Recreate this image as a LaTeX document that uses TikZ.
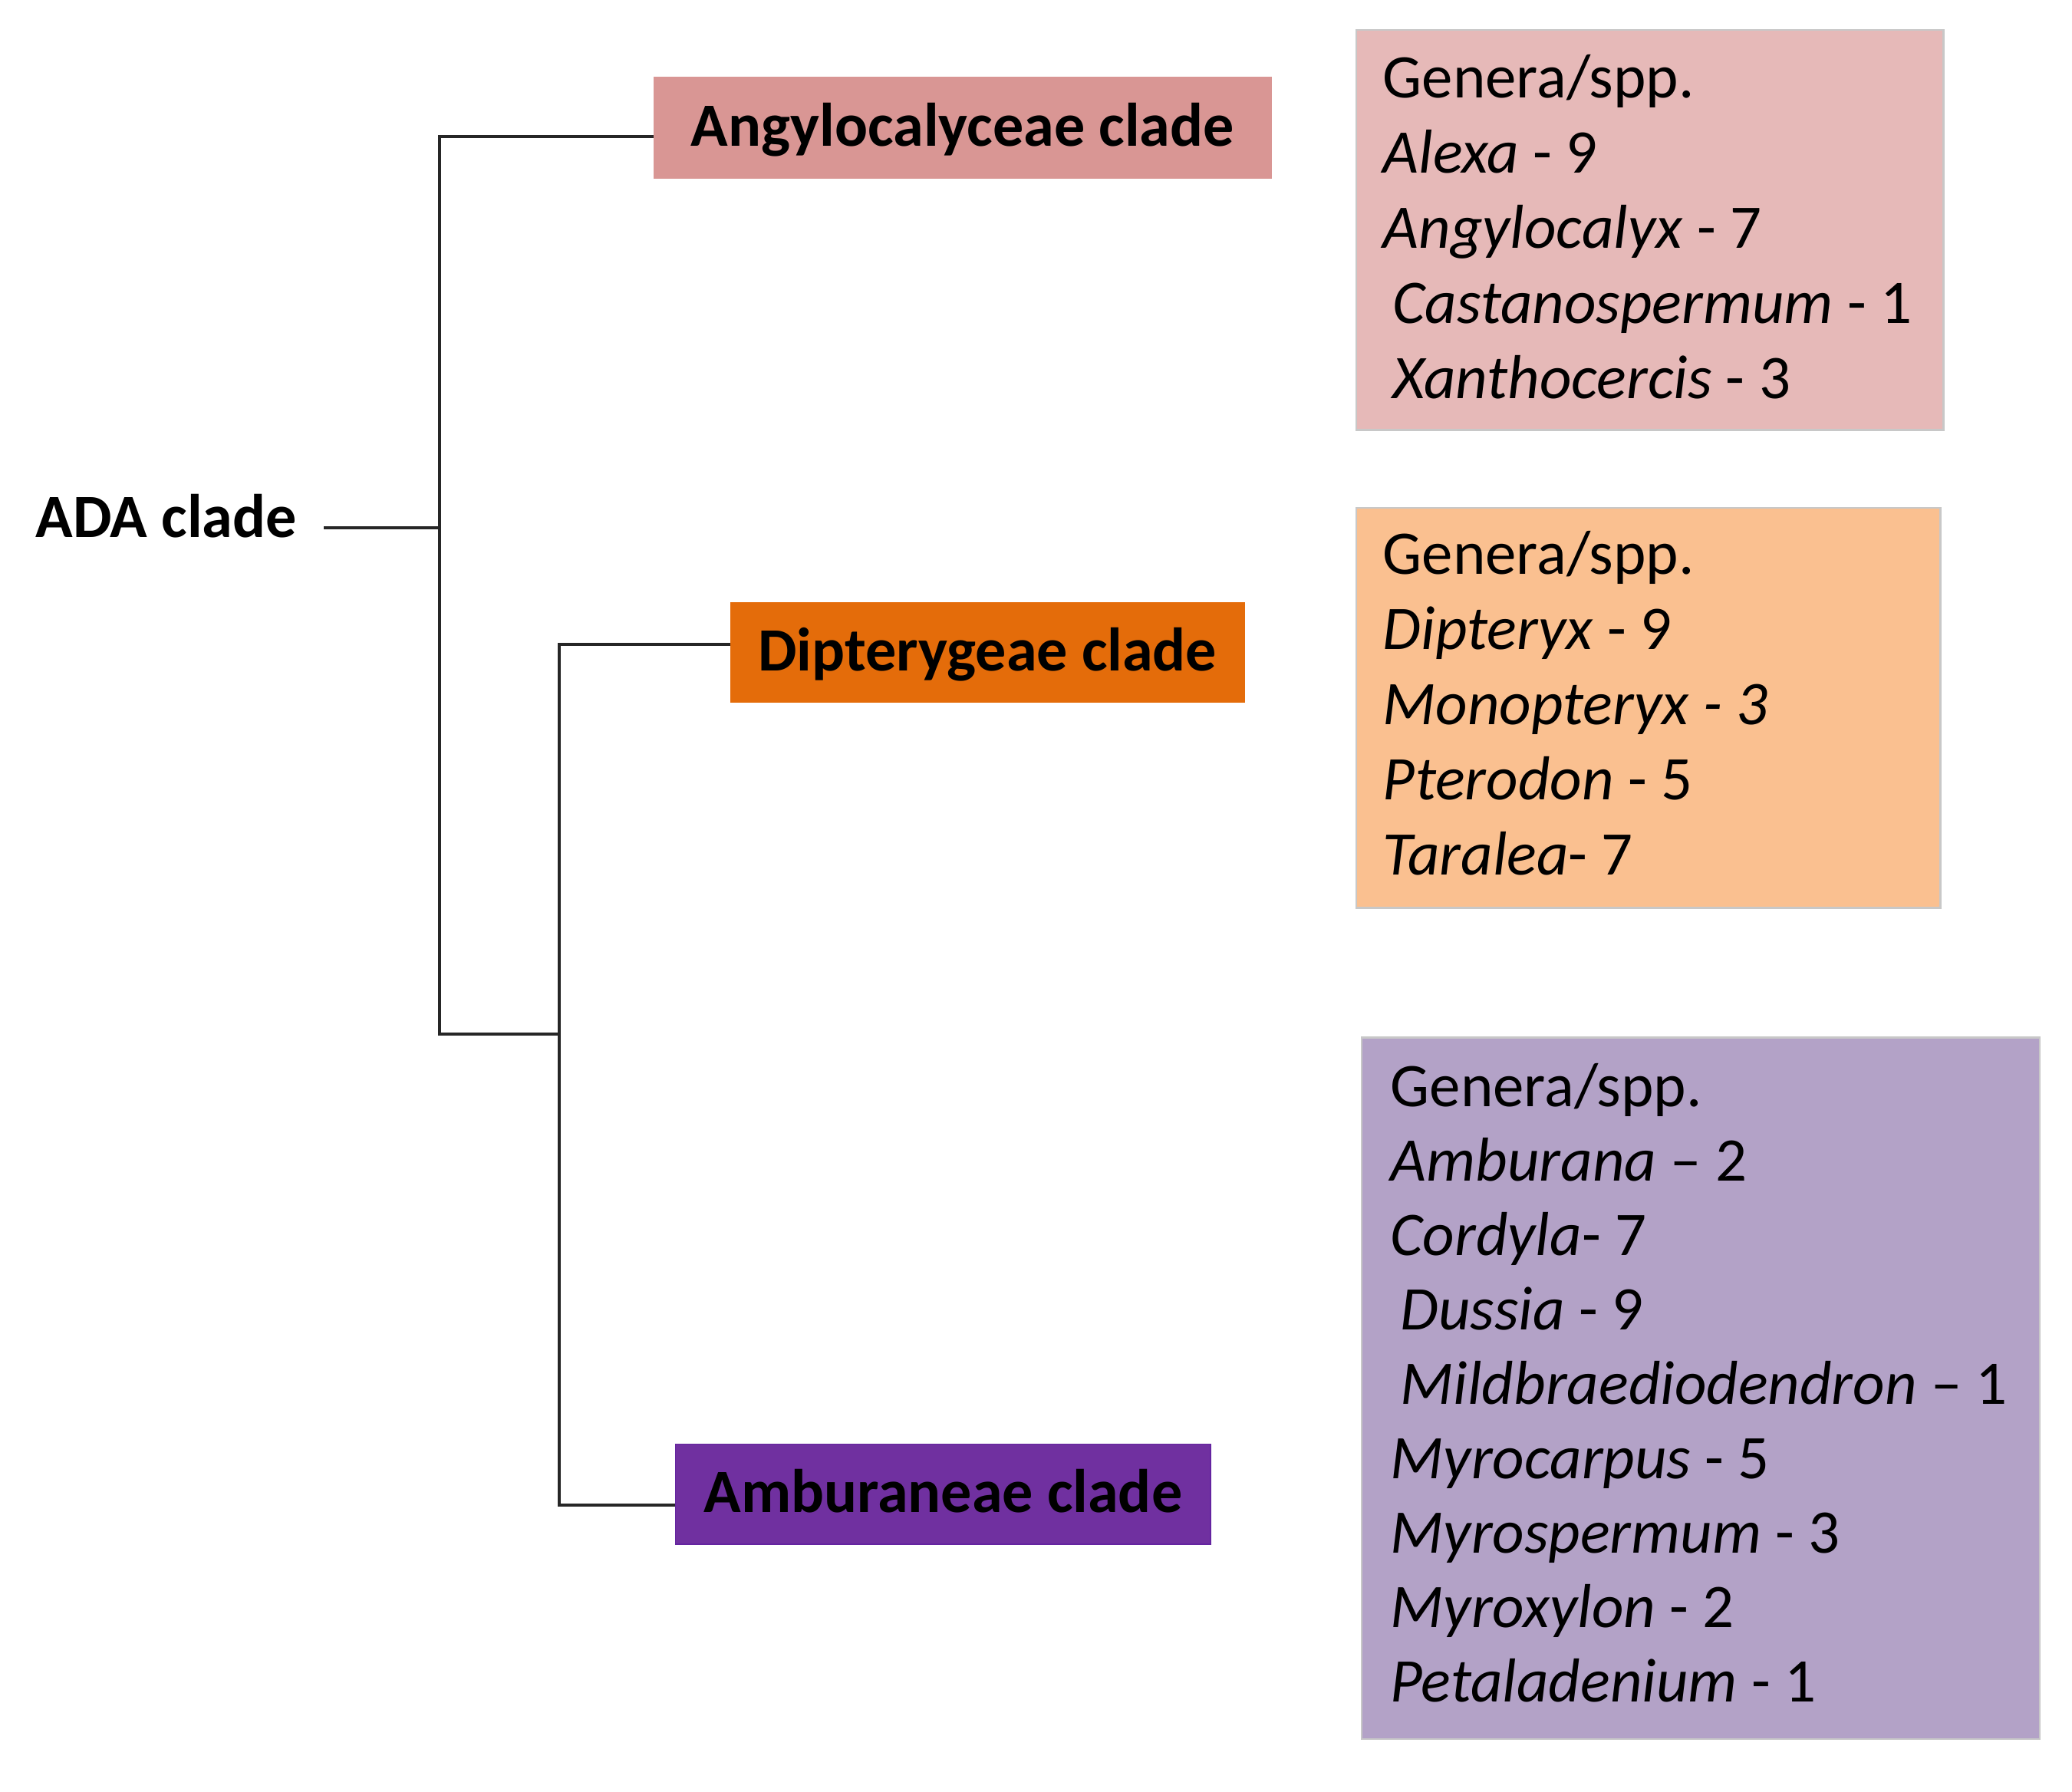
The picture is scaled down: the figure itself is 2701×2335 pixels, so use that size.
\documentclass[tikz,border=0pt]{standalone}
\usepackage{fontspec}
\setmainfont{Carlito}
\definecolor{angfill}{HTML}{D99694}
\definecolor{anglist}{HTML}{E6B9B8}
\definecolor{dipfill}{HTML}{E46C0A}
\definecolor{diplist}{HTML}{FAC090}
\definecolor{ambfill}{HTML}{7030A0}
\definecolor{ambedge}{HTML}{6424A0}
\definecolor{amblist}{HTML}{B3A2C7}
\definecolor{listedge}{HTML}{C8C8C8}
\newcommand{\lead}{\hspace{0.16em}}
\begin{document}
\begin{tikzpicture}[x=0.01cm,y=-0.01cm,
  tree/.style={draw=black!85, line width=1.1pt},
  titlebox/.style={anchor=north west, inner sep=0pt, align=center,
    text height=16pt, text depth=2.3pt,
    font=\fontsize{22.8}{27}\selectfont\bfseries, text=black},
  listbox/.style={anchor=north west, draw=listedge, line width=0.7pt, inner sep=0pt},
  listtxt/.style={anchor=base west, inner sep=0pt, font=\fontsize{23}{28}\selectfont, text=black}]
\useasboundingbox[fill=white] (0,0) rectangle (2701,2335);

% clade label
\node[anchor=base west, inner sep=0pt, font=\fontsize{22.8}{27}\selectfont\bfseries] (ada) at (46,700) {ADA clade};

% title boxes
\node[titlebox, fill=angfill, draw=angfill, minimum width=8.04cm, minimum height=1.31cm] (ang) at (852,100) {Angylocalyceae clade};
\node[titlebox, fill=dipfill, draw=dipfill, minimum width=6.69cm, minimum height=1.29cm] (dip) at (952,785) {Dipterygeae clade};
\node[titlebox, fill=ambfill, draw=ambedge, minimum width=6.97cm, minimum height=1.30cm] (amb) at (880,1882) {Amburaneae clade};

% list boxes
\node[listbox, fill=anglist, minimum width=7.65cm, minimum height=5.21cm] (angbox) at (1767,38) {};
\node[listbox, fill=diplist, minimum width=7.61cm, minimum height=5.21cm] (dipbox) at (1767,661) {};
\node[listbox, fill=amblist, minimum width=8.83cm, minimum height=9.14cm] (ambbox) at (1774,1351) {};

% list texts
\foreach \t [count=\i] in {{Genera/spp.},{\textit{Alexa} - 9},{\textit{Angylocalyx} - 7},{\lead\textit{Castanospermum} - 1},{\lead\textit{Xanthocercis} - 3}}
  \node[listtxt] (angt\i) at ({1802},{127+98*(\i-1)}) {\t};
\foreach \t [count=\i] in {{Genera/spp.},{\textit{Dipteryx} - 9},{\textit{Monopteryx - 3}},{\textit{Pterodon} - 5},{\textit{Taralea}- 7}}
  \node[listtxt] (dipt\i) at ({1802},{748+98*(\i-1)}) {\t};
\foreach \t [count=\i] in {{Genera/spp.},{\textit{Amburana} – 2},{\textit{Cordyla}- 7},{\lead\textit{Dussia} - 9},{\lead\textit{Mildbraediodendron} – 1},{\textit{Myrocarpus} - 5},{\textit{Myrospermum} - 3},{\textit{Myroxylon} - 2},{\textit{Petaladenium} - 1}}
  \node[listtxt] (ambt\i) at ({1812},{1442+97*(\i-1)}) {\t};

% tree
\coordinate (adaend) at (422,688);
\coordinate (j0) at (573,688);
\coordinate (jtop) at (573,178);
\coordinate (jbot) at (573,1348);
\coordinate (k) at (729,1348);
\coordinate (ktop) at (729,840);
\coordinate (kbot) at (729,1962);
\draw[tree] (adaend) -- (j0);
\draw[tree] (jtop -| ang.west) -- (jtop) -- (jbot) -- (k);
\draw[tree] (ktop -| dip.west) -- (ktop) -- (kbot) -- (kbot -| amb.west);
\end{tikzpicture}
\end{document}
